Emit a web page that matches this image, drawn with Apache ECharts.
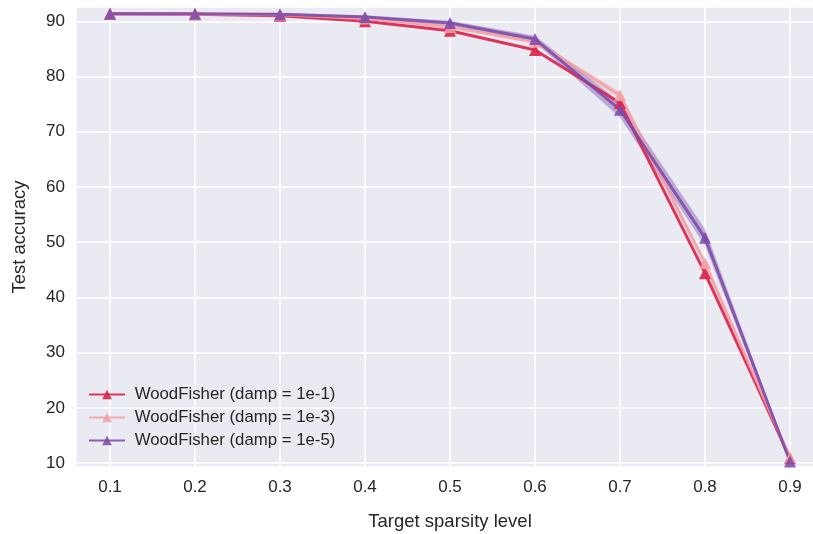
<!DOCTYPE html>
<html><head><meta charset="utf-8">
<script src="https://cdn.jsdelivr.net/npm/echarts@6/dist/echarts.min.js"></script>
<style>html,body{margin:0;padding:0;background:#fff}#c{width:813px;height:534px}</style>
</head><body><div id="c"></div>
<script>
const sparsity = [0.1, 0.2, 0.3, 0.4, 0.5, 0.6, 0.7, 0.8, 0.9];
const names = ['WoodFisher (damp = 1e-1)', 'WoodFisher (damp = 1e-3)', 'WoodFisher (damp = 1e-5)'];
const damp1 = [91.4, 91.3, 91.0, 90.0, 88.3, 84.8, 75.2, 44.4, 10.9];
const damp3 = [91.4, 91.3, 91.2, 90.5, 89.0, 86.3, 76.6, 46.2, 11.0];
const damp5 = [91.4, 91.4, 91.3, 90.8, 89.7, 86.8, 74.0, 50.8, 10.3];
const band3Low  = [91.3, 91.2, 91.1, 90.3, 88.7, 85.9, 76.0, 45.6, 10.7];
const band3High = [91.5, 91.4, 91.3, 90.7, 89.3, 86.7, 77.2, 46.8, 11.3];
const band5Low  = [91.3, 91.3, 91.1, 90.5, 89.3, 86.2, 72.6, 49.4, 9.9];
const band5High = [91.5, 91.5, 91.5, 91.1, 90.1, 87.4, 75.4, 52.4, 10.7];
const xTicks = [0.1, 0.2, 0.3, 0.4, 0.5, 0.6, 0.7, 0.8, 0.9];
const yTicks = [10, 20, 30, 40, 50, 60, 70, 80, 90];

const colors = ['#dc2a52', '#f2a0a6', '#7a48a8'];
const font = 'Liberation Sans, Arial, sans-serif';
const pts = arr => sparsity.map((x, i) => [x, arr[i]]);
const near = (v, list) => list.some(t => Math.abs(t - v) < 1e-6);

function band(lo, hi, color) {
  return {
    type: 'custom', silent: true, z: 1, data: [0],
    renderItem: (params, api) => {
      const up = sparsity.map((x, i) => api.coord([x, hi[i]]));
      const dn = sparsity.map((x, i) => api.coord([x, lo[i]])).reverse();
      return {type: 'polygon', shape: {points: up.concat(dn)}, style: {fill: color, opacity: 0.4}};
    }
  };
}
function line(name, arr, color, op) {
  return {
    name: name, type: 'line', data: pts(arr), symbol: 'triangle', symbolSize: 12,
    lineStyle: {color: color, width: 3, opacity: op},
    itemStyle: {color: color, opacity: op}, z: 3
  };
}

const chart = echarts.init(document.getElementById('c'), null, {renderer: 'canvas'});
chart.setOption({
  animation: false,
  backgroundColor: '#ffffff',
  textStyle: {fontFamily: font},
  grid: {left: 76, right: -11, top: 7, bottom: 67, show: true, backgroundColor: '#eaeaf2', borderWidth: 0,
    containLabel: false, outerBoundsMode: 'none'},
  legend: {
    data: names, orient: 'vertical', left: 83, top: 381, itemGap: 6,
    itemWidth: 36, itemHeight: 12,
    formatter: n => '\u00a0' + n,
    textStyle: {fontFamily: font, fontSize: 16.8, color: '#262626'}
  },
  xAxis: {
    type: 'value', min: 0.06, max: 0.94, splitNumber: 9,
    name: 'Target sparsity level', nameLocation: 'middle', nameGap: 45,
    nameTextStyle: {fontFamily: font, fontSize: 18.5, color: '#262626'},
    axisLine: {show: false}, axisTick: {show: false},
    axisLabel: {showMinLabel: false, showMaxLabel: false, fontSize: 17, color: '#262626', margin: 12,
      formatter: v => near(v, xTicks) ? v.toFixed(1) : ''},
    splitLine: {show: true, lineStyle: {color: '#ffffff', width: 1.6}}
  },
  yAxis: {
    type: 'value', min: 9.3, max: 92.6, splitNumber: 8,
    name: 'Test accuracy', nameLocation: 'middle', nameGap: 47,
    nameTextStyle: {fontFamily: font, fontSize: 18.5, color: '#262626'},
    axisLine: {show: false}, axisTick: {show: false},
    axisLabel: {showMinLabel: false, showMaxLabel: false, fontSize: 17, color: '#262626', margin: 11,
      formatter: v => near(v, yTicks) ? String(Math.round(v)) : ''},
    splitLine: {show: true, lineStyle: {color: '#ffffff', width: 1.6}}
  },
  series: [
    band(band3Low, band3High, colors[1]),
    band(band5Low, band5High, colors[2]),
    line(names[0], damp1, colors[0], 0.95),
    line(names[1], damp3, colors[1], 0.85),
    line(names[2], damp5, colors[2], 0.85)
  ]
});
</script></body></html>
